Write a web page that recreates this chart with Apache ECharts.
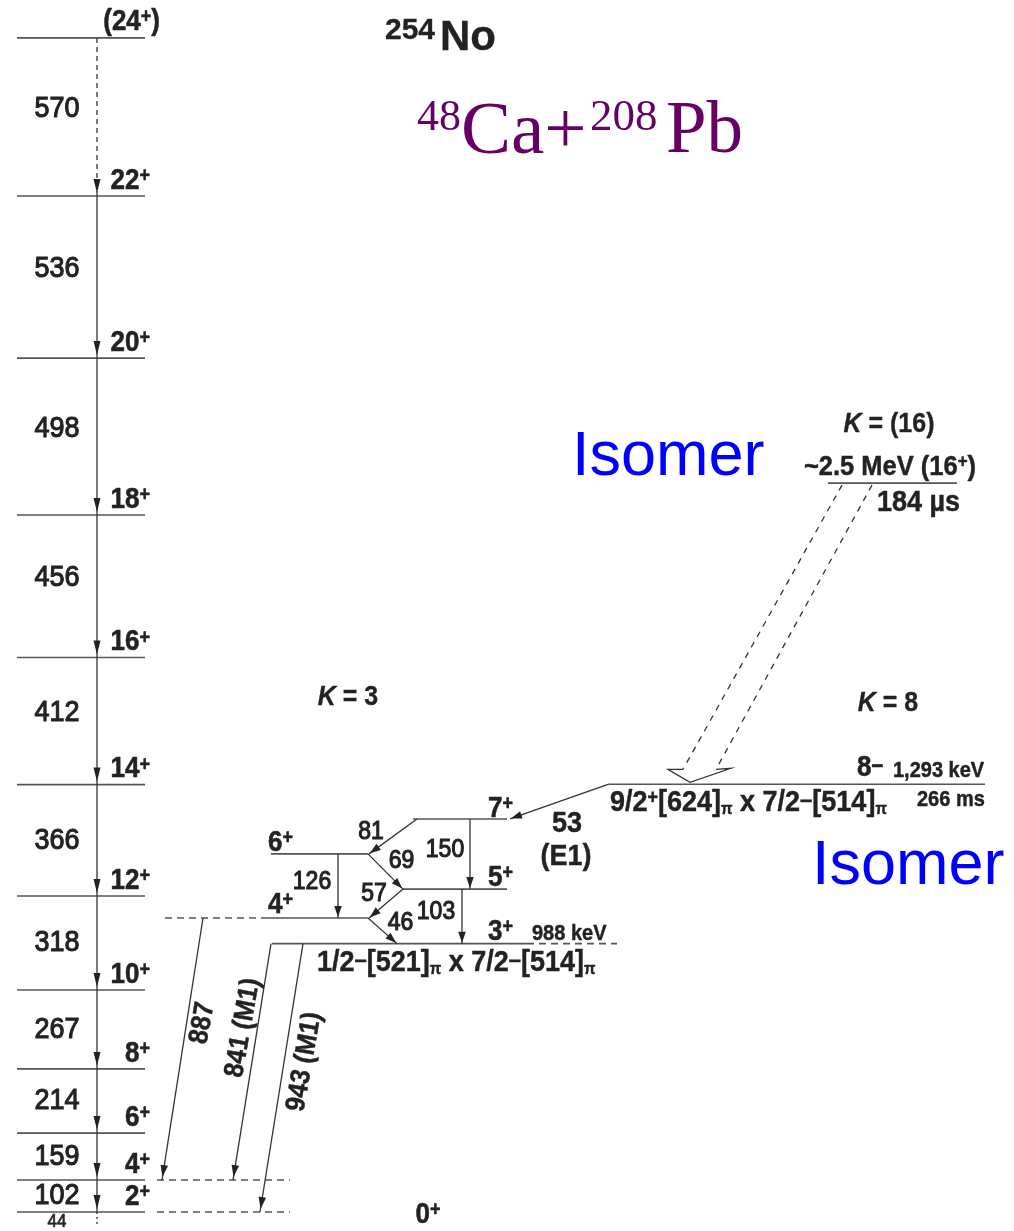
<!DOCTYPE html>
<html>
<head>
<meta charset="utf-8">
<title>254No level scheme</title>
<script src="https://cdn.jsdelivr.net/npm/echarts@6.0.0/dist/echarts.min.js"></script>
<style>
html,body{margin:0;padding:0;background:#ffffff;}
#chart{width:1014px;height:1231px;}
</style>
</head>
<body>
<div id="chart"></div>
<script>
// ===================== DATA (level heights in keV as drawn in the scheme) =====================
// ground-state band
const gsbSpins  = ['2', '4', '6', '8', '10', '12', '14', '16', '18', '20', '22', '24'];
const gsbLevels = [44, 150, 306, 519, 781, 1093, 1463, 1885, 2358, 2879, 3417, 3942];
const gsbGammas = [102, 159, 214, 267, 318, 366, 412, 456, 498, 536, 570];
const groundSpin = '0';
const groundLevel = 0;
const groundGamma = 44;

// K = 3 band
const k3Spins  = ['3', '4', '5', '6', '7'];
const k3Levels = [935, 1020, 1116, 1233, 1349];
const k3HeadEnergy = '988 keV';
const k3Config = '1/2{m|–}[521]{p|π} x 7/2{m|–}[514]{p|π}';
// in-band transitions: [from spin, to spin, energy]
const k3Gammas = [['7', '6', 81], ['6', '5', 69], ['5', '4', 57], ['4', '3', 46],
                  ['7', '5', 150], ['6', '4', 126], ['5', '3', 103]];

// K = 8 isomer
const k8Level = 1464;
const k8Spin = '8{m|–}';
const k8Energy = '1,293 keV';
const k8HalfLife = '266 ms';
const k8Config = '9/2{s|+}[624]{p|π} x 7/2{m|–}[514]{p|π}';
const k8Gamma = ['53', '(E1)'];        // 8- -> 7+ (K=3 band)

// K = 16 isomer
const k16Level = 2464;
const k16Label = '~2.5 MeV (16{s|+})';
const k16HalfLife = '184 µs';

// interband decays: [K=3 spin, GSB spin, label]
const interband = [['4', '4', '887'], ['3', '4', '841 (M1)'], ['3', '2', '943 (M1)']];
const bandK = { k3: '3', k8: '8', k16: '(16)' };

// ===================== LAYOUT (horizontal positions in scheme units, pixel offsets) =====================
const L = {
  gsbX: [17, 145], gsbGammaX: 97, gsbSpinRight: 150, gsbEnergyX: 57,
  gsbExt: { '4': [157, 290], '2': [157, 290] },
  k3X: { '3': [272, 527], '4': [268, 368], '5': [403, 507], '6': [271, 368], '7': [413, 507] },
  k3Ext: { '3': [527, 617], '4': [165, 268] },
  k3SpinX: { '3': 488, '4': 268, '5': 488, '6': 268, '7': 488 },
  k3SpinDy: { '3': -12, '4': -13, '5': -11, '6': -11, '7': -10 },
  k3GammaX: { '7-6': [417, 369], '6-5': [368, 403], '5-4': [403, 369], '4-3': [368, 397],
              '7-5': [470, 470], '6-4': [338, 338], '5-3': [462, 462] },
  k3GammaLbl: { '7-6': [-22, -4], '6-5': [16, -10], '5-4': [-12, -10], '4-3': [18, -8],
                '7-5': [-25, -4], '6-4': [-26, -4], '5-3': [-26, -4] },
  k8X: [608, 985], k8GammaX: [608, 510],
  k16X: [828, 957],
  interX: { '887': [203, 162], '841 (M1)': [271, 233], '943 (M1)': [303, 260] },
  interLbl: { '887': [20, -26], '841 (M1)': [-9, -34], '943 (M1)': [23, -16] },
  iso: { shaftTop: [842, 872], shaftEnd: [683, 716], barbs: [668, 731], tipX: 690 }
};

// ===================== STYLES =====================
const FONT = '"Liberation Sans", Arial, Helvetica, sans-serif';
const SERIF = '"Liberation Serif", "Times New Roman", serif';
const INK = '#222222';
const LEVEL = '#555555';

function richFor(fs, sw) {
  const common = { fontFamily: FONT, fontWeight: 'bold', fill: INK, stroke: INK, lineWidth: sw || 0 };
  return {
    s: Object.assign({}, common, { fontSize: Math.round(fs * 0.68), verticalAlign: 'top' }),
    m: Object.assign({}, common, { fontSize: Math.round(fs * 0.8), verticalAlign: 'top' }),
    p: Object.assign({}, common, { fontSize: Math.round(fs * 0.55), verticalAlign: 'bottom' }),
    i: Object.assign({}, common, { fontStyle: 'italic', fontSize: fs })
  };
}
const TS = {
  spin:  { fontFamily: FONT, fontWeight: 'bold', fontSize: 26, fill: INK, stroke: INK, lineWidth: 0.5 },
  gamma: { fontFamily: FONT, fontWeight: 'normal', fontSize: 27, fill: INK, stroke: INK, lineWidth: 1.0 },
  band:  { fontFamily: FONT, fontWeight: 'normal', fontSize: 23, fill: INK, stroke: INK, lineWidth: 1.0 },
  cfg:   { fontFamily: FONT, fontWeight: 'bold', fontSize: 27, fill: INK, stroke: INK, lineWidth: 0.4 },
  mid:   { fontFamily: FONT, fontWeight: 'bold', fontSize: 25.5, fill: INK, stroke: INK, lineWidth: 0.4 },
  big:   { fontFamily: FONT, fontWeight: 'bold', fontSize: 27, fill: INK, stroke: INK, lineWidth: 0.4 },
  small: { fontFamily: FONT, fontWeight: 'bold', fontSize: 20, fill: INK, stroke: INK, lineWidth: 0.4 },
  kl:    { fontFamily: FONT, fontWeight: 'bold', fontSize: 25, fill: INK, stroke: INK, lineWidth: 0.3 },
  tiny:  { fontFamily: FONT, fontWeight: 'normal', fontSize: 17, fill: INK, stroke: INK, lineWidth: 0.6 },
  rot:   { fontFamily: FONT, fontWeight: 'bold', fontSize: 25, fill: INK, stroke: INK, lineWidth: 0.4 }
};
const TEXT_STRETCH = 1.1;   // scheme lettering is slightly taller than wide
function textEl(x, y, text, cls, align, rot) {
  const base = TS[cls];
  return {
    type: 'text', x: x, y: y, rotation: rot || 0, scaleY: TEXT_STRETCH, silent: true,
    style: Object.assign({}, base, {
      text: text, x: 0, y: 0,
      align: align || 'center', textAlign: align || 'center',
      verticalAlign: 'middle', textVerticalAlign: 'middle',
      rich: richFor(base.fontSize, base.fontWeight === 'bold' ? base.lineWidth : 0.4)
    })
  };
}

// ===================== BUILD ITEMS FROM DATA =====================
const k3E = s => k3Levels[k3Spins.indexOf(s)];
const gsbE = s => gsbLevels[gsbSpins.indexOf(s)];

// level lines
const levelItems = [];
gsbLevels.forEach(E => levelItems.push({ x1: L.gsbX[0], x2: L.gsbX[1], E: E, dash: false }));
Object.keys(L.gsbExt).forEach(s => levelItems.push({ x1: L.gsbExt[s][0], x2: L.gsbExt[s][1], E: gsbE(s), dash: true }));
k3Spins.forEach(s => levelItems.push({ x1: L.k3X[s][0], x2: L.k3X[s][1], E: k3E(s), dash: false }));
Object.keys(L.k3Ext).forEach(s => levelItems.push({ x1: L.k3Ext[s][0], x2: L.k3Ext[s][1], E: k3E(s), dash: true }));
levelItems.push({ x1: L.k8X[0], x2: L.k8X[1], E: k8Level, dash: false });
levelItems.push({ x1: L.k16X[0], x2: L.k16X[1], E: k16Level, dash: false });

// gamma transitions
const gammaItems = [];
for (let i = 0; i < gsbGammas.length; i++) {
  gammaItems.push({
    x1: L.gsbGammaX, E1: gsbLevels[i + 1], x2: L.gsbGammaX, E2: gsbLevels[i],
    dash: i === gsbGammas.length - 1 ? [5, 4] : null, head: [14, 3.5], gap: 3,
    labels: [{ text: String(gsbGammas[i]), cls: 'gamma', dx: L.gsbEnergyX - L.gsbGammaX, dy: 0, lift: true }]
  });
}
gammaItems.push({
  x1: L.gsbGammaX, E1: gsbLevels[0], x2: L.gsbGammaX, E2: groundLevel, dash: [2, 3], head: null, gap: 0,
  labels: [{ text: String(groundGamma), cls: 'tiny', dx: L.gsbEnergyX - L.gsbGammaX, dy: 3.5 }]
});
k3Gammas.forEach(g => {
  const key = g[0] + '-' + g[1];
  gammaItems.push({
    x1: L.k3GammaX[key][0], E1: k3E(g[0]), x2: L.k3GammaX[key][1], E2: k3E(g[1]),
    dash: null, head: [11, 3.8], gap: 1,
    labels: [{ text: String(g[2]), cls: 'band', dx: L.k3GammaLbl[key][0], dy: L.k3GammaLbl[key][1] }]
  });
});
gammaItems.push({
  x1: L.k8GammaX[0], E1: k8Level, x2: L.k8GammaX[1], E2: k3E('7'), dash: null, head: [11, 3.8], gap: 1,
  labels: [{ text: k8Gamma[0], cls: 'big', dx: 8, dy: 22 }, { text: k8Gamma[1], cls: 'big', dx: 7, dy: 55 }]
});
interband.forEach(g => {
  gammaItems.push({
    x1: L.interX[g[2]][0], E1: k3E(g[0]), x2: L.interX[g[2]][1], E2: gsbE(g[1]),
    dash: null, head: [12, 3.8], gap: 3,
    labels: [{ text: g[2], cls: 'rot', dx: L.interLbl[g[2]][0], dy: L.interLbl[g[2]][1], rot: 80 * Math.PI / 180 }]
  });
});

// level labels
const labelItems = [];
gsbSpins.forEach((s, i) => {
  const top = i === gsbSpins.length - 1;
  labelItems.push({ x: L.gsbSpinRight + (top ? 10 : 0), E: gsbLevels[i], dx: 0, dy: top ? -16 : -15,
    text: top ? '(' + s + '{s|+})' : s + '{s|+}', cls: 'spin', align: 'right' });
});
labelItems.push({ x: 428, E: groundLevel, dx: 0, dy: -10, text: groundSpin + '{s|+}', cls: 'spin', align: 'center' });
k3Spins.forEach(s => labelItems.push({ x: L.k3SpinX[s], E: k3E(s), dx: 0, dy: L.k3SpinDy[s], text: s + '{s|+}', cls: 'spin', align: 'left' }));
labelItems.push({ x: 532, E: k3E('3'), dx: 0, dy: -10, text: k3HeadEnergy, cls: 'small', align: 'left' });
labelItems.push({ x: 317, E: k3E('3'), dx: 0, dy: 19, text: k3Config, cls: 'cfg', align: 'left' });
labelItems.push({ x: 348, E: k3E('7'), dx: 0, dy: -122, text: '{i|K} = ' + bandK.k3, cls: 'kl', align: 'center' });
labelItems.push({ x: 857, E: k8Level, dx: 0, dy: -16, text: k8Spin, cls: 'spin', align: 'left' });
labelItems.push({ x: 893, E: k8Level, dx: 0, dy: -13, text: k8Energy, cls: 'small', align: 'left' });
labelItems.push({ x: 610, E: k8Level, dx: 0, dy: 19, text: k8Config, cls: 'cfg', align: 'left' });
labelItems.push({ x: 917, E: k8Level, dx: 0, dy: 16, text: k8HalfLife, cls: 'small', align: 'left' });
labelItems.push({ x: 888, E: k8Level, dx: 0, dy: -81, text: '{i|K} = ' + bandK.k8, cls: 'kl', align: 'center' });
labelItems.push({ x: 889, E: k16Level, dx: 0, dy: -59, text: '{i|K} = ' + bandK.k16, cls: 'kl', align: 'center' });
labelItems.push({ x: 890, E: k16Level, dx: 0, dy: -16, text: k16Label, cls: 'mid', align: 'center' });
labelItems.push({ x: 877, E: k16Level, dx: 0, dy: 20, text: k16HalfLife, cls: 'big', align: 'left' });

// ===================== RENDERERS =====================
function renderLevel(params, api) {
  const d = levelItems[params.dataIndex];
  const a = api.coord([d.x1, d.E]), b = api.coord([d.x2, d.E]);
  return { type: 'line', silent: true,
    shape: { x1: a[0], y1: a[1], x2: b[0], y2: b[1] },
    style: { stroke: LEVEL, lineWidth: 1.6, lineDash: d.dash ? [7, 5] : null } };
}
function renderGamma(params, api) {
  const d = gammaItems[params.dataIndex];
  const a = api.coord([d.x1, d.E1]), b = api.coord([d.x2, d.E2]);
  const dx = b[0] - a[0], dy = b[1] - a[1], len = Math.hypot(dx, dy), ux = dx / len, uy = dy / len;
  const children = [{ type: 'line', shape: { x1: a[0], y1: a[1], x2: b[0], y2: b[1] },
    style: { stroke: '#333333', lineWidth: 1.3, lineDash: d.dash } }];
  if (d.head) {
    const tip = [b[0] - ux * d.gap, b[1] - uy * d.gap];
    const bx = tip[0] - ux * d.head[0], by = tip[1] - uy * d.head[0], h = d.head[1];
    children.push({ type: 'polygon', shape: { points: [tip, [bx - uy * h, by + ux * h], [bx + uy * h, by - ux * h]] },
      style: { fill: '#222222' } });
  }
  const mx = (a[0] + b[0]) / 2, my = (a[1] + b[1]) / 2;
  (d.labels || []).forEach(l => {
    const lift = l.lift && len > 120 ? -8 : 0;
    children.push(textEl(mx + l.dx, my + l.dy + lift, l.text, l.cls, 'center', l.rot));
  });
  return { type: 'group', children: children };
}
function renderLabel(params, api) {
  const d = labelItems[params.dataIndex];
  const p = api.coord([d.x, d.E]);
  return textEl(p[0] + d.dx, p[1] + d.dy, d.text, d.cls, d.align);
}
function renderIsoArrow(params, api) {
  const yTop = api.coord([0, k16Level])[1];
  const yLow = api.coord([0, k8Level])[1];
  const yEnd = yLow - 15, yTip = yLow - 2;
  const X = v => api.coord([v, k8Level])[0];
  const I = L.iso;
  const dashed = { stroke: '#333333', lineWidth: 1.3, lineDash: [6, 6] };
  return { type: 'group', children: [
    { type: 'line', shape: { x1: X(I.shaftTop[0]), y1: yTop + 2, x2: X(I.shaftEnd[0]), y2: yEnd }, style: dashed },
    { type: 'line', shape: { x1: X(I.shaftTop[1]), y1: yTop + 2, x2: X(I.shaftEnd[1]), y2: yEnd }, style: dashed },
    { type: 'polyline', shape: { points: [[X(I.shaftEnd[0]), yEnd], [X(I.barbs[0]), yEnd], [X(I.tipX), yTip],
        [X(I.barbs[1]), yEnd - 1], [X(I.shaftEnd[1]), yEnd]] },
      style: { stroke: '#333333', lineWidth: 1.3, fill: null } }
  ] };
}

// ===================== CHART =====================
const chart = echarts.init(document.getElementById('chart'), null, { renderer: 'canvas' });
const titleText = (x, y, text, font, size, color, weight, stroke) => ({
  type: 'text', x: x, y: y, silent: true,
  style: { text: text, x: 0, y: 0, fontFamily: font, fontSize: size, fontWeight: weight || 'normal',
    fill: color, stroke: stroke ? color : null, lineWidth: stroke || 0,
    align: 'left', textAlign: 'left', verticalAlign: 'middle', textVerticalAlign: 'middle' }
});
chart.setOption({
  animation: false,
  backgroundColor: '#ffffff',
  grid: { left: 0, right: 0, top: 0, bottom: 0 },
  xAxis: { type: 'value', min: 0, max: 1014, show: false },
  yAxis: { type: 'value', min: -19.1, max: 4067.9, show: false },
  graphic: [
    titleText(385, 31, '254', FONT, 30, INK, 'bold', 0.3),
    titleText(440, 38, 'No', FONT, 42, INK, 'bold', 0.3),
    titleText(417, 118, '48', SERIF, 44, '#660066'),
    titleText(461, 133, 'Ca+', SERIF, 75, '#660066'),
    titleText(590, 118, '208', SERIF, 45, '#660066'),
    titleText(666, 133, 'Pb', SERIF, 73, '#660066'),
    titleText(572, 458, 'Isomer', FONT, 63, '#0000ff'),
    titleText(812, 867, 'Isomer', FONT, 63, '#0000ff')
  ],
  series: [
    { type: 'custom', name: 'levels', renderItem: renderLevel, clip: false, silent: true,
      data: levelItems.map(d => [d.x1, d.E, d.x2]) },
    { type: 'custom', name: 'transitions', renderItem: renderGamma, clip: false, silent: true,
      data: gammaItems.map(d => [d.x1, d.E1, d.x2, d.E2]) },
    { type: 'custom', name: 'isomer decay', renderItem: renderIsoArrow, clip: false, silent: true,
      data: [[L.iso.shaftTop[0], k16Level, L.iso.tipX, k8Level]] },
    { type: 'custom', name: 'labels', renderItem: renderLabel, clip: false, silent: true,
      data: labelItems.map(d => [d.x, d.E]) }
  ]
});
</script>
</body>
</html>
